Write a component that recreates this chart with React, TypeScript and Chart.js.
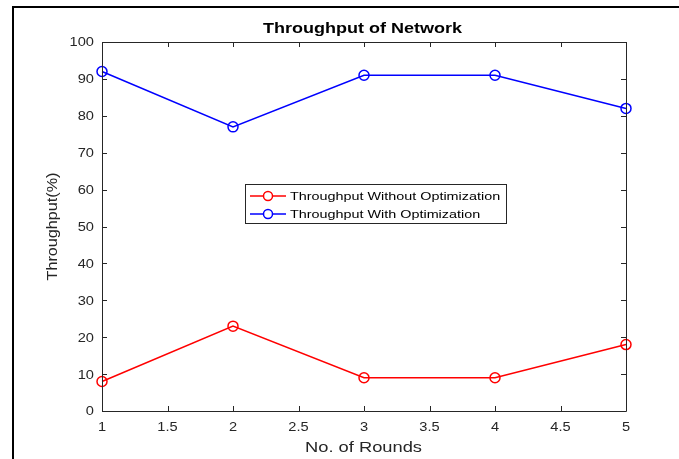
import React, { useEffect, useRef } from "react";
import { Chart, registerables } from "chart.js";

Chart.register(...registerables);

const rounds = [1, 2, 3, 4, 5];
const withoutOpt = [8, 23, 9, 9, 18];
const withOpt = [92, 77, 91, 91, 82];
const seriesLabels = ["Throughput Without Optimization", "Throughput With Optimization"];
const seriesColors = ["#ff0000", "#0000ff"];
const titleText = "Throughput of Network";
const xTitle = "No. of Rounds";
const yTitle = "Throughput(%)";

const FONT = "'Liberation Sans', Arial, Helvetica, sans-serif";
const AXIS = "#262626";

function txt(ctx: any, s: string, x: number, y: number, font: string, align: string, sx: number, color: string, rot = false, fitW = 0) {
  ctx.save();
  ctx.translate(x, y);
  if (rot) ctx.rotate(-Math.PI / 2);
  ctx.font = font;
  let k = sx;
  if (fitW > 0) k = fitW / ctx.measureText(s).width;
  ctx.scale(k, 1);
  ctx.textAlign = align;
  ctx.textBaseline = "middle";
  ctx.fillStyle = color;
  ctx.fillText(s, 0, 0);
  ctx.restore();
}

const decor = {
  id: "decor",
  afterDraw(chart: any) {
    const { ctx, chartArea: a, scales } = chart;
    const xs = scales.x;
    const ys = scales.y;
    ctx.save();
    // outer frame (left + top)
    ctx.strokeStyle = "#000";
    ctx.lineWidth = 2;
    ctx.beginPath();
    ctx.moveTo(13, 459);
    ctx.lineTo(13, 7);
    ctx.lineTo(679, 7);
    ctx.stroke();

    // axes box
    ctx.strokeStyle = AXIS;
    ctx.lineWidth = 1;
    ctx.beginPath();
    ctx.rect(a.left + 0.5, a.top + 0.5, a.right - a.left, a.bottom - a.top);
    ctx.stroke();

    // inside ticks + tick labels
    const tl = 5;
    const tickFont = `12.5px ${FONT}`;
    ctx.beginPath();
    xs.ticks.forEach((t: any) => {
      const px = Math.round(xs.getPixelForValue(t.value)) + 0.5;
      ctx.moveTo(px, a.bottom);
      ctx.lineTo(px, a.bottom - tl);
      ctx.moveTo(px, a.top);
      ctx.lineTo(px, a.top + tl);
    });
    ys.ticks.forEach((t: any) => {
      const py = Math.round(ys.getPixelForValue(t.value)) + 0.5;
      ctx.moveTo(a.left, py);
      ctx.lineTo(a.left + tl, py);
      ctx.moveTo(a.right, py);
      ctx.lineTo(a.right - tl, py);
    });
    ctx.stroke();
    xs.ticks.forEach((t: any) => {
      const px = xs.getPixelForValue(t.value);
      txt(ctx, String(t.value), px, a.bottom + 16.5, tickFont, "center", 1.17, AXIS);
    });
    ys.ticks.forEach((t: any) => {
      const py = ys.getPixelForValue(t.value);
      txt(ctx, String(t.value), a.left - 8, py + 1, tickFont, "right", 1.17, AXIS);
    });

    // title
    txt(ctx, titleText, 362.5, 29, `bold 14px ${FONT}`, "center", 1, "#000", false, 199);

    // axis titles
    txt(ctx, xTitle, 363.5, 448.5, `14px ${FONT}`, "center", 1, AXIS, false, 117);
    txt(ctx, yTitle, 53, (a.top + a.bottom) / 2, `14px ${FONT}`, "center", 1, AXIS, true, 108);

    // legend
    const bx = 245, by = 184, bw = 261, bh = 39;
    ctx.fillStyle = "#fff";
    ctx.fillRect(bx, by, bw, bh);
    ctx.strokeStyle = AXIS;
    ctx.lineWidth = 1;
    ctx.strokeRect(bx + 0.5, by + 0.5, bw, bh);
    chart.data.datasets.forEach((ds: any, i: number) => {
      const ry = 196 + i * 18;
      ctx.strokeStyle = ds.borderColor;
      ctx.lineWidth = 1.5;
      ctx.beginPath();
      ctx.moveTo(250, ry);
      ctx.lineTo(286, ry);
      ctx.stroke();
      ctx.beginPath();
      ctx.arc(268, ry, 4.5, 0, Math.PI * 2);
      ctx.fillStyle = "#fff";
      ctx.fill();
      ctx.stroke();
      txt(ctx, ds.label, 290, ry + 0.5, `11.5px ${FONT}`, "left", 1.25, "#000");
    });
    ctx.restore();
  },
};

export default function App() {
  const ref = useRef<HTMLCanvasElement | null>(null);
  useEffect(() => {
    if (!ref.current) return;
    const mk = (vals: number[], i: number) => ({
      label: seriesLabels[i],
      data: rounds.map((r, k) => ({ x: r, y: vals[k] })),
      borderColor: seriesColors[i],
      backgroundColor: "rgba(0,0,0,0)",
      borderWidth: 1.5,
      pointRadius: 5,
      pointBorderWidth: 1.5,
      pointBackgroundColor: "rgba(0,0,0,0)",
      pointBorderColor: seriesColors[i],
      tension: 0,
      clip: false as any,
    });
    const chart = new Chart(ref.current, {
      type: "line",
      data: { datasets: [mk(withoutOpt, 0), mk(withOpt, 1)] },
      options: {
        animation: false,
        responsive: false,
        layout: { padding: { top: 42, right: 53, left: 0, bottom: 0 } },
        plugins: { legend: { display: false }, title: { display: false }, tooltip: { enabled: false } },
        scales: {
          x: {
            type: "linear",
            min: 1,
            max: 5,
            grid: { display: false },
            border: { display: false },
            ticks: { stepSize: 0.5, display: false },
            afterFit: (s: any) => { s.height = 48; },
          },
          y: {
            min: 0,
            max: 100,
            grid: { display: false },
            border: { display: false },
            ticks: { stepSize: 10, display: false },
            afterFit: (s: any) => { s.width = 102; },
          },
        },
      },
      plugins: [decor],
    });
    return () => chart.destroy();
  }, []);
  return (
    <div style={{ position: "fixed", left: 0, top: 0, width: 679, height: 459, background: "#fff" }}>
      <canvas ref={ref} width={679} height={459} />
    </div>
  );
}
